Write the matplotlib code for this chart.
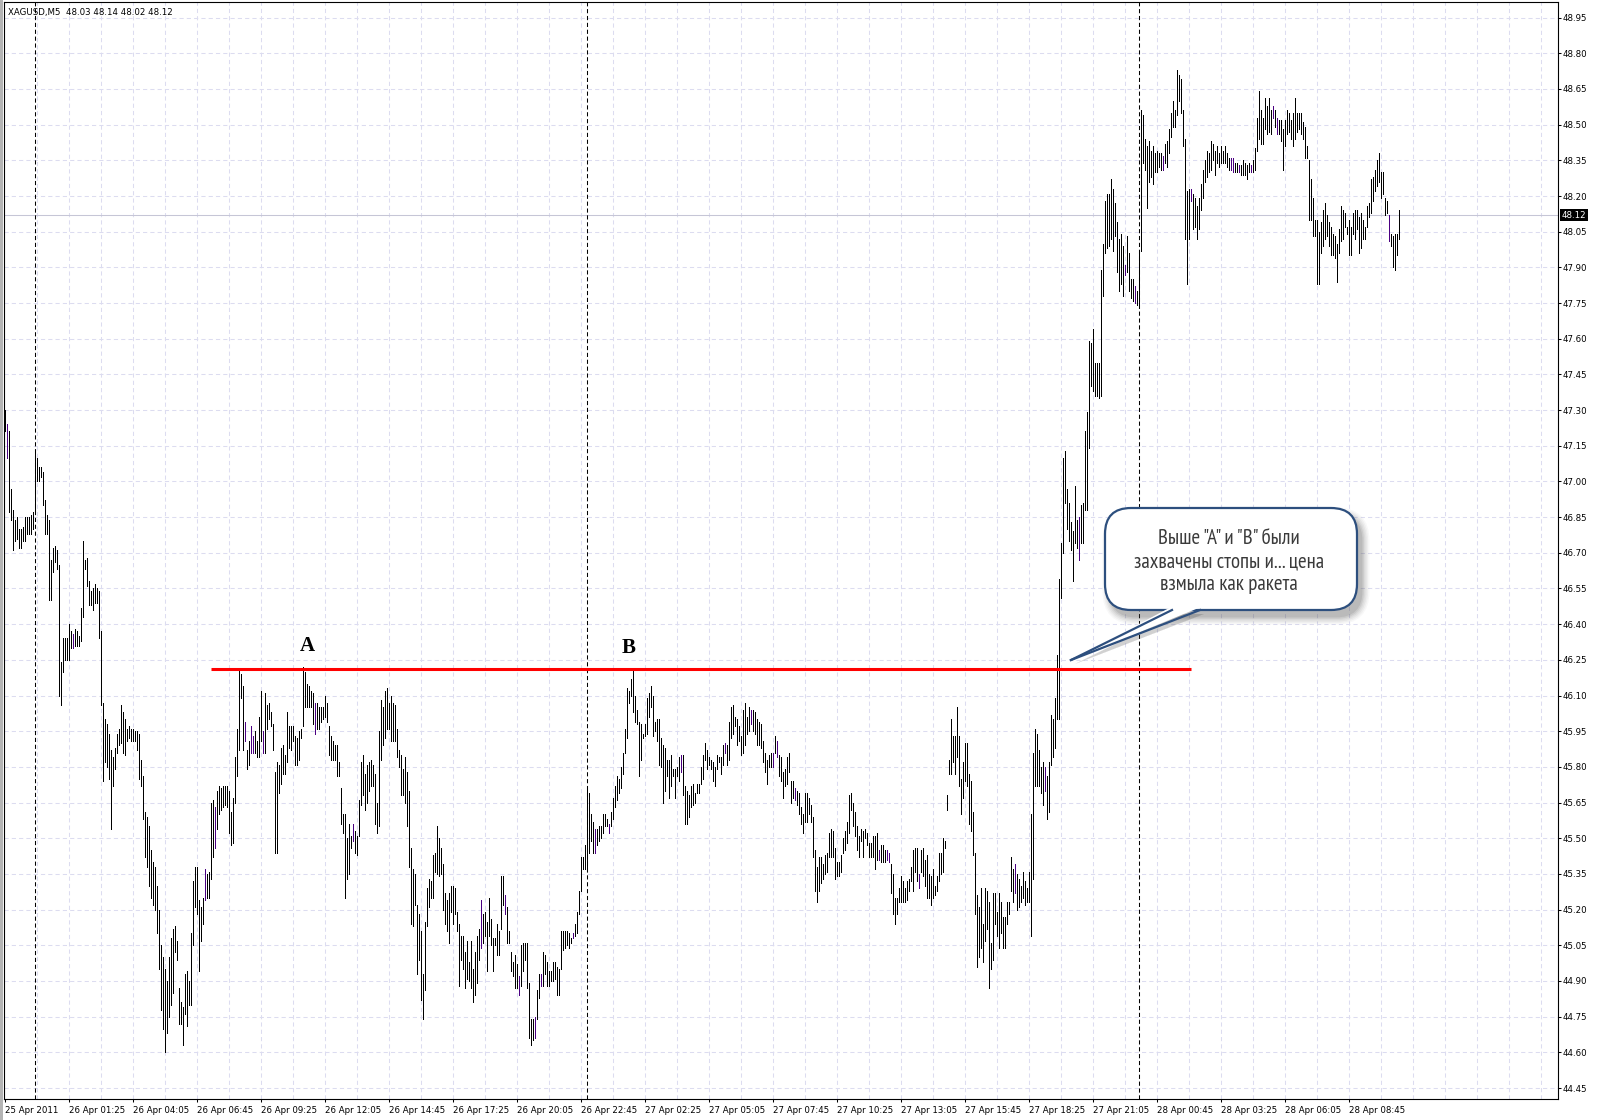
import numpy as np
import matplotlib
matplotlib.use("Agg")
import matplotlib.pyplot as plt
import matplotlib.transforms as mtransforms
from matplotlib.patches import FancyBboxPatch, Polygon, Rectangle
from matplotlib.lines import Line2D
from matplotlib import font_manager

# ---------------------------------------------------------------- data
symbol_caption = "XAGUSD,M5  48.03 48.14 48.02 48.12"
last_price = 48.12
level_price = 46.21          # resistance line through peaks A and B
level_span = (103, 593)      # bar range covered by the line
point_marks = [("A", 151, 46.31), ("B", 312, 46.30)]
day_breaks = [15, 291, 567]  # first bar of each new trading day
time_label_step = 32
time_labels = ["25 Apr 2011", "26 Apr 01:25", "26 Apr 04:05", "26 Apr 06:45",
               "26 Apr 09:25", "26 Apr 12:05", "26 Apr 14:45", "26 Apr 17:25",
               "26 Apr 20:05", "26 Apr 22:45", "27 Apr 02:25", "27 Apr 05:05",
               "27 Apr 07:45", "27 Apr 10:25", "27 Apr 13:05", "27 Apr 15:45",
               "27 Apr 18:25", "27 Apr 21:05", "28 Apr 00:45", "28 Apr 03:25",
               "28 Apr 06:05", "28 Apr 08:45"]
price_ticks = [44.45, 44.60, 44.75, 44.90, 45.05, 45.20, 45.35, 45.50, 45.65,
               45.80, 45.95, 46.10, 46.25, 46.40, 46.55, 46.70, 46.85, 47.00,
               47.15, 47.30, 47.45, 47.60, 47.75, 47.90, 48.05, 48.20, 48.35,
               48.50, 48.65, 48.80, 48.95]
callout_lines = ["Выше \"A\" и \"B\" были", "захвачены стопы и... цена", "взмыла как ракета"]

# M5 bars: high / low of every bar
bar_high = [
    47.30, 47.24, 47.21, 46.97, 46.88, 46.84, 46.85, 46.80, 46.80, 46.81,
    46.85, 46.85, 46.85, 46.86, 46.87, 47.12, 47.10, 47.06, 47.06, 47.04,
    46.92, 46.86, 46.84, 46.67, 46.72, 46.73, 46.71, 46.65, 46.24, 46.34,
    46.34, 46.34, 46.40, 46.37, 46.36, 46.38, 46.37, 46.35, 46.47, 46.75,
    46.67, 46.68, 46.58, 46.54, 46.55, 46.57, 46.55, 46.54, 46.37, 46.07,
    46.00, 45.98, 45.94, 45.87, 45.84, 45.88, 45.94, 45.96, 46.06, 46.03,
    46.00, 45.96, 45.97, 45.96, 45.96, 45.95, 45.95, 45.94, 45.83, 45.76,
    45.61, 45.59,
    45.55, 45.45, 45.40, 45.38, 45.30, 45.20, 45.05, 45.00, 44.95, 44.90,
    45.00, 45.08, 45.12,
    45.13, 45.07, 44.87, 44.81, 44.79, 44.93, 44.94, 44.90, 45.10, 45.32,
    45.38, 45.38, 45.24, 45.21, 45.25, 45.37, 45.35, 45.36, 45.65, 45.66,
    45.63, 45.70, 45.72, 45.71, 45.72, 45.72, 45.72, 45.70, 45.61, 45.67,
    45.84, 45.96, 46.21, 46.19, 46.14, 45.99, 45.87, 45.91, 45.97, 45.93,
    45.95, 45.91, 46.01, 46.12, 45.95, 46.11, 46.06, 46.07, 46.03, 45.98,
    45.78, 45.82, 45.81, 45.88, 45.89, 45.85, 46.03, 45.97, 45.97, 45.97,
    45.93, 45.92, 45.95, 45.96, 46.22, 46.20, 46.15, 46.14, 46.12, 46.11,
    46.07, 46.07, 46.05, 46.05, 46.05, 46.10, 46.07, 45.97, 45.93, 45.91,
    45.89, 45.89, 45.82, 45.71, 45.60, 45.60, 45.50, 45.56, 45.51, 45.56,
    45.53, 45.51, 45.66, 45.82, 45.85, 45.77, 45.81, 45.82, 45.83, 45.81,
    45.77, 45.65, 45.95, 46.08, 46.05, 46.12, 46.13, 46.07, 46.10, 46.07,
    46.06, 45.96, 45.87, 45.85, 45.79, 45.84, 45.78, 45.70, 45.46, 45.37,
    45.35, 45.22, 45.18, 45.11, 44.93, 45.15, 45.29, 45.33, 45.32, 45.43,
    45.44, 45.55, 45.50, 45.46, 45.39, 45.27, 45.24, 45.27, 45.30, 45.30,
    45.29, 45.19, 45.14, 45.09, 45.09, 45.02, 45.07, 44.98, 45.07, 44.95,
    45.02, 45.09, 45.12, 45.24, 45.18, 45.19, 45.15, 45.25, 45.16, 45.08,
    45.08, 45.14, 45.11, 45.34, 45.34, 45.26, 45.21, 45.11, 45.02, 44.98,
    45.01, 44.97, 44.92, 45.05, 45.06, 45.06, 45.06,
    44.89, 44.74, 44.74, 44.75, 44.86, 44.93, 44.93, 45.02, 45.01, 44.98,
    44.94, 44.94, 44.98, 44.98, 44.96, 44.95, 45.11, 45.11, 45.11, 45.11,
    45.10, 45.08, 45.10, 45.14, 45.19, 45.28, 45.42, 45.42, 45.47, 45.72,
    45.69, 45.60, 45.57, 45.54, 45.54, 45.55, 45.55, 45.60, 45.60, 45.58,
    45.56, 45.61, 45.67, 45.72, 45.76, 45.75, 45.80, 45.86, 45.96, 46.13,
    46.12, 46.17, 46.21, 46.10, 46.04, 45.99, 45.98, 45.94, 45.98, 46.09,
    46.11, 46.14, 46.10, 45.99, 46.00, 46.00, 45.92, 45.89, 45.88, 45.83,
    45.83, 45.85, 45.79, 45.79, 45.80, 45.84, 45.85, 45.85, 45.72, 45.70,
    45.68, 45.72, 45.73, 45.69, 45.73, 45.73, 45.80, 45.85,
    45.90, 45.87, 45.84, 45.83, 45.82, 45.80, 45.85, 45.84, 45.84, 45.89,
    45.90, 45.89, 45.99, 46.05, 46.06, 46.01, 46.00, 45.97, 45.93, 46.04,
    46.07, 46.01, 46.05, 46.04, 46.04, 46.03, 46.00, 45.99, 45.98, 45.91,
    45.86, 45.83, 45.85, 45.86, 45.86, 45.93, 45.91, 45.85, 45.84, 45.78,
    45.79, 45.84, 45.86, 45.74, 45.74, 45.71, 45.70, 45.69, 45.63, 45.60,
    45.69, 45.69, 45.67, 45.64, 45.59, 45.45, 45.38, 45.42, 45.42, 45.39,
    45.43, 45.44, 45.52, 45.54, 45.53, 45.46, 45.40, 45.40, 45.43, 45.50,
    45.53, 45.57, 45.68, 45.69, 45.65, 45.61, 45.55, 45.51, 45.54, 45.53,
    45.54, 45.52, 45.48, 45.48, 45.51, 45.51, 45.52, 45.45,
    45.47, 45.47, 45.45, 45.45, 45.44, 45.39, 45.35, 45.25, 45.25, 45.29,
    45.34, 45.32, 45.29, 45.32, 45.33, 45.38, 45.45, 45.46, 45.46, 45.35,
    45.45, 45.46, 45.41, 45.43, 45.35, 45.34, 45.37, 45.30, 45.34, 45.44,
    45.44, 45.50, 45.49, 45.68, 45.83, 46.00, 45.93, 45.93, 46.05, 45.93,
    45.75, 45.82, 45.90, 45.90, 45.77, 45.74, 45.61, 45.44, 45.26, 45.21,
    45.29, 45.14, 45.29, 45.28, 45.23, 45.06, 45.27, 45.27, 45.19, 45.27,
    45.23, 45.17, 45.17, 45.23, 45.23, 45.42, 45.37, 45.39, 45.35, 45.33,
    45.30, 45.36, 45.32, 45.29, 45.36, 45.60, 45.86, 45.96, 45.94, 45.87,
    45.80, 45.82, 45.80, 45.76, 45.82, 46.02, 46.00,
    46.09, 46.27, 46.59, 46.74, 47.10, 47.13, 46.97, 46.91, 46.83, 46.79,
    46.98, 46.84, 46.85, 46.90, 46.91, 47.21, 47.29, 47.59, 47.58, 47.64,
    47.50, 47.50, 47.50, 47.89, 48.00, 48.18, 48.21, 48.21, 48.27, 48.23,
    48.17, 48.09, 48.02, 48.04, 47.99, 47.91, 48.03, 47.96, 47.85, 47.85,
    47.82, 47.80, 47.97, 48.56, 48.54, 48.44, 48.41, 48.43, 48.39, 48.41,
    48.38, 48.39, 48.38, 48.38, 48.37, 48.42, 48.43, 48.48, 48.55, 48.60,
    48.56, 48.73, 48.71, 48.69, 48.56, 48.44, 48.22, 48.23, 48.23, 48.21,
    48.19, 48.16, 48.19, 48.25, 48.31, 48.35, 48.39, 48.38, 48.43, 48.42,
    48.39, 48.41, 48.38, 48.41, 48.39, 48.41, 48.38, 48.36,
    48.36, 48.36, 48.34, 48.34, 48.33, 48.33, 48.35, 48.34, 48.33, 48.34,
    48.33, 48.35, 48.40, 48.53, 48.64, 48.56, 48.53, 48.61, 48.58, 48.61,
    48.56, 48.58, 48.56, 48.53, 48.52, 48.52, 48.48, 48.52, 48.56, 48.55,
    48.52, 48.55, 48.61, 48.55, 48.55, 48.55, 48.51, 48.49, 48.41, 48.35,
    48.27, 48.19, 48.10, 48.10, 48.05, 48.09, 48.14, 48.17, 48.12, 48.09,
    48.07, 48.04, 48.03, 48.00, 48.06, 48.16, 48.14, 48.13, 48.07, 48.10,
    48.07, 48.13, 48.14, 48.14, 48.11, 48.13, 48.10, 48.07, 48.16, 48.17,
    48.27, 48.28, 48.31, 48.35, 48.38, 48.30, 48.30, 48.19, 48.18, 48.12,
    48.04, 48.03, 48.04, 48.04, 48.14,
]
bar_low = [
    47.21, 47.10, 46.87, 46.84, 46.71, 46.75, 46.76, 46.72, 46.72, 46.75,
    46.75, 46.78, 46.78, 46.78, 46.80, 46.88, 47.00, 47.00, 47.02, 46.90,
    46.78, 46.78, 46.50, 46.50, 46.62, 46.66, 46.63, 46.10, 46.06, 46.20,
    46.25, 46.25, 46.25, 46.30, 46.30, 46.31, 46.31, 46.31, 46.33, 46.43,
    46.63, 46.56, 46.48, 46.48, 46.46, 46.49, 46.49, 46.34, 46.06, 45.74,
    45.82, 45.80, 45.75, 45.54, 45.72, 45.79, 45.86, 45.89, 45.90, 45.86,
    45.85, 45.91, 45.92, 45.91, 45.91, 45.91, 45.87, 45.75, 45.72, 45.58,
    45.42, 45.38,
    45.30, 45.25, 45.22, 45.20, 45.10, 44.95, 44.78, 44.70, 44.60, 44.68,
    44.75, 44.80, 44.85,
    45.02, 44.99, 44.72, 44.72, 44.63, 44.76, 44.71, 44.80, 44.80, 45.05,
    45.21, 45.18, 44.94, 45.07, 45.14, 45.24, 45.25, 45.25, 45.33, 45.42,
    45.46, 45.54, 45.60, 45.62, 45.63, 45.64, 45.63, 45.52, 45.47, 45.48,
    45.65, 45.76, 45.87, 46.09, 45.87, 45.91, 45.79, 45.81, 45.86, 45.86,
    45.86, 45.84, 45.84, 45.91, 45.86, 45.86, 45.96, 46.00, 45.97, 45.87,
    45.44, 45.44, 45.69, 45.73, 45.77, 45.77, 45.82, 45.88, 45.87, 45.91,
    45.81, 45.81, 45.83, 45.92, 45.97, 46.05, 46.05, 46.05, 46.05, 45.98,
    45.94, 45.96, 45.96, 45.99, 46.00, 46.01, 45.99, 45.85, 45.83, 45.83,
    45.83, 45.76, 45.76, 45.56, 45.52, 45.25, 45.33, 45.35, 45.46, 45.49,
    45.44, 45.43, 45.51, 45.64, 45.68, 45.62, 45.65, 45.70, 45.72, 45.72,
    45.56, 45.52, 45.55, 45.83, 45.89, 45.92, 45.96, 45.96, 45.91, 45.91,
    45.91, 45.84, 45.80, 45.68, 45.68, 45.65, 45.55, 45.38, 45.14, 45.13,
    45.22, 44.93, 44.99, 44.82, 44.74, 44.86, 45.13, 45.21, 45.25, 45.25,
    45.36, 45.35, 45.34, 45.35, 45.20, 45.14, 45.11, 45.06, 45.19, 45.14,
    45.18, 45.11, 44.88, 44.99, 44.95, 44.87, 44.91, 44.90, 44.87, 44.81,
    44.84, 44.89, 44.99, 45.04, 45.06, 45.09, 44.94, 45.09, 45.05, 44.94,
    45.05, 45.01, 45.01, 45.12, 45.22, 45.18, 45.06, 45.06, 44.94, 44.92,
    44.87, 44.87, 44.84, 44.88, 44.94, 44.99, 44.87,
    44.66, 44.63, 44.65, 44.66, 44.74, 44.83, 44.88, 44.88, 44.93, 44.88,
    44.88, 44.90, 44.90, 44.91, 44.84, 44.84, 44.95, 45.03, 45.04, 45.05,
    45.04, 45.06, 45.08, 45.09, 45.10, 45.18, 45.28, 45.37, 45.37, 45.37,
    45.44, 45.49, 45.44, 45.44, 45.47, 45.49, 45.50, 45.52, 45.55, 45.55,
    45.52, 45.55, 45.58, 45.63, 45.66, 45.69, 45.71, 45.77, 45.86, 45.92,
    46.07, 46.10, 46.03, 45.99, 45.98, 45.76, 45.83, 45.92, 45.93, 45.94,
    46.01, 46.05, 45.93, 45.95, 45.91, 45.81, 45.80, 45.65, 45.70, 45.76,
    45.67, 45.72, 45.76, 45.67, 45.76, 45.74, 45.78, 45.68, 45.56, 45.56,
    45.59, 45.63, 45.64, 45.65, 45.69, 45.69, 45.73, 45.75,
    45.83, 45.79, 45.81, 45.79, 45.74, 45.72, 45.79, 45.82, 45.77, 45.81,
    45.86, 45.81, 45.83, 45.92, 45.94, 45.97, 45.89, 45.91, 45.85, 45.86,
    45.89, 45.94, 45.95, 45.98, 45.95, 45.94, 45.89, 45.89, 45.88, 45.82,
    45.78, 45.73, 45.80, 45.80, 45.80, 45.86, 45.84, 45.76, 45.74, 45.67,
    45.72, 45.73, 45.78, 45.65, 45.67, 45.66, 45.64, 45.60, 45.56, 45.52,
    45.57, 45.57, 45.60, 45.57, 45.42, 45.28, 45.23, 45.28, 45.31, 45.33,
    45.35, 45.36, 45.42, 45.42, 45.42, 45.33, 45.34, 45.34, 45.36, 45.44,
    45.45, 45.48, 45.52, 45.62, 45.55, 45.51, 45.45, 45.42, 45.49, 45.42,
    45.50, 45.47, 45.42, 45.42, 45.42, 45.37, 45.41, 45.41,
    45.40, 45.40, 45.40, 45.41, 45.40, 45.27, 45.18, 45.14, 45.18, 45.23,
    45.23, 45.23, 45.23, 45.24, 45.28, 45.32, 45.28, 45.36, 45.32, 45.29,
    45.36, 45.34, 45.30, 45.25, 45.25, 45.22, 45.25, 45.26, 45.28, 45.32,
    45.35, 45.36, 45.46, 45.62, 45.77, 45.77, 45.82, 45.77, 45.84, 45.72,
    45.60, 45.67, 45.74, 45.72, 45.56, 45.53, 45.43, 45.18, 44.96, 45.00,
    45.04, 44.98, 45.07, 45.12, 44.87, 44.95, 44.99, 45.14, 45.09, 45.04,
    45.10, 45.04, 45.04, 45.14, 45.18, 45.28, 45.23, 45.27, 45.20, 45.21,
    45.23, 45.25, 45.22, 45.23, 45.23, 45.09, 45.33, 45.72, 45.72, 45.72,
    45.69, 45.64, 45.70, 45.58, 45.61, 45.81, 45.84,
    45.88, 46.00, 46.00, 46.51, 46.70, 46.91, 46.80, 46.75, 46.71, 46.58,
    46.74, 46.72, 46.67, 46.74, 46.74, 46.88, 46.88, 47.14, 47.40, 47.38,
    47.36, 47.36, 47.35, 47.36, 47.78, 47.96, 47.98, 47.99, 48.02, 47.97,
    48.03, 47.88, 47.80, 47.83, 47.78, 47.87, 47.88, 47.80, 47.77, 47.76,
    47.75, 47.74, 47.73, 47.97, 48.34, 48.31, 48.15, 48.26, 48.28, 48.25,
    48.30, 48.30, 48.32, 48.31, 48.31, 48.34, 48.32, 48.38, 48.45, 48.49,
    48.49, 48.54, 48.60, 48.55, 48.41, 48.02, 47.83, 48.02, 48.18, 48.06,
    48.07, 48.02, 48.06, 48.14, 48.19, 48.26, 48.28, 48.30, 48.31, 48.35,
    48.29, 48.34, 48.32, 48.34, 48.34, 48.34, 48.32, 48.31,
    48.31, 48.30, 48.30, 48.30, 48.30, 48.29, 48.29, 48.29, 48.27, 48.30,
    48.30, 48.30, 48.31, 48.39, 48.44, 48.42, 48.42, 48.48, 48.46, 48.47,
    48.46, 48.53, 48.49, 48.46, 48.46, 48.43, 48.31, 48.41, 48.46, 48.47,
    48.44, 48.41, 48.44, 48.47, 48.48, 48.46, 48.44, 48.36, 48.36, 48.10,
    48.10, 48.03, 48.03, 47.83, 47.83, 47.96, 47.99, 48.02, 48.03, 47.99,
    47.95, 47.95, 47.94, 47.84, 47.96, 48.01, 48.02, 48.07, 48.04, 47.95,
    47.95, 48.04, 48.02, 48.06, 47.96, 47.98, 48.02, 48.02, 48.07, 48.11,
    48.13, 48.18, 48.22, 48.24, 48.26, 48.19, 48.21, 48.12, 48.13, 48.01,
    47.99, 47.90, 47.89, 47.95, 48.02,
]
purple_bars = [1, 34, 100, 105, 120, 123, 124, 129, 155, 174, 238, 250, 257,
               265, 268, 284, 295, 302, 338, 360, 373, 384, 386, 395, 437,
               441, 442, 457, 505, 520, 537, 560, 565, 579, 593, 613, 614,
               617, 623, 634, 636, 692]

# ---------------------------------------------------------------- layout
W, H = 1600, 1120
plt.rcParams["font.family"] = ["DejaVu Sans"]
fig = plt.figure(figsize=(W / 100, H / 100), dpi=100)
fig.patch.set_facecolor("white")

# chart window: frame from x=4..1558 px, y=2..1099 px
ax = fig.add_axes([4 / W, 1 - 1099 / H, 1554 / W, 1097 / H])
ax.set_facecolor("white")
ax.set_xlim(-0.5, 776.5)
ax.set_ylim(44.4038, 49.0156)

grid_color = "#dcdcf0"
for p in price_ticks:
    ax.axhline(p, color=grid_color, lw=0.75, ls=(0, (4, 3)), zorder=0)
for b in range(16, 777, 16):
    ax.axvline(b, color=grid_color, lw=0.75, ls=(0, (4, 3)), zorder=0)

# bid line
ax.axhline(last_price, color="#c6c6d6", lw=0.75, zorder=1)

# day separators
for b in day_breaks:
    ax.axvline(b, color="black", lw=0.75, ls=(0, (4, 2.6)), zorder=2)

# price bars, one pixel wide
n = min(len(bar_high), len(bar_low))
x = np.arange(n)
purple = set(purple_bars)
colors = ["#4b0082" if i in purple else "black" for i in range(n)]
ax.vlines(x, bar_low[:n], bar_high[:n], colors=colors, linewidth=0.55,
          antialiased=False, zorder=3)

# horizontal level through A and B
ax.hlines(level_price, level_span[0], level_span[1], color="#ff0000", lw=2.2, zorder=4)
for label, bx, py in point_marks:
    ax.text(bx, py, label, ha="center", va="center", fontsize=15,
            fontweight="bold", family=["Liberation Serif", "DejaVu Serif"],
            color="black", zorder=5)

for side in ("left", "right", "top", "bottom"):
    ax.spines[side].set_color("black")
    ax.spines[side].set_linewidth(0.8)

# price scale on the right
ax.yaxis.tick_right()
ax.set_yticks(price_ticks)
ax.set_yticklabels([f"{p:.2f}" for p in price_ticks])
ax.tick_params(axis="y", which="major", direction="out", length=2.3, width=0.75,
               pad=1.3, labelsize=6.2, colors="black", left=False, right=True)

# time scale
tick_bars = [i * time_label_step for i in range(len(time_labels))]
ax.set_xticks(tick_bars)
ax.set_xticklabels(time_labels)
for t in ax.get_xticklabels():
    t.set_horizontalalignment("left")
ax.tick_params(axis="x", which="major", direction="out", length=2.3, width=0.75,
               pad=2.5, labelsize=6.2, colors="black")

# current price tag
tag_tr = mtransforms.blended_transform_factory(ax.transAxes, ax.transData) + \
    mtransforms.ScaledTranslation(3.5 / 100, 0, fig.dpi_scale_trans)
ax.text(1.0, last_price, f"{last_price:.2f}", transform=tag_tr, ha="left",
        va="center", fontsize=6.2, color="white", clip_on=False, zorder=10,
        bbox=dict(boxstyle="square,pad=0.18", fc="black", ec="none"))

# ---------------------------------------------------------------- overlay (pixel space)
ov = fig.add_axes([0, 0, 1, 1], zorder=20)
ov.set_xlim(0, W)
ov.set_ylim(H, 0)
ov.axis("off")
ov.patch.set_alpha(0)

ov.add_patch(Rectangle((0, 0), 3, H, color="#b4b4b4", lw=0))
ov.text(7.5, 12.5, symbol_caption, fontsize=6.2, ha="left", va="center", color="black")

# callout balloon
bx0, by0, bx1, by1 = 1105, 508, 1357, 610
tail_tip = (1071, 660)
tail_base = (1172, 1200)
edge = "#2d4f7e"

for k, a in enumerate([0.12, 0.10, 0.08, 0.06, 0.05, 0.04]):
    g = 0.5 + k * 1.4
    ov.add_patch(FancyBboxPatch((bx0 + 5 - g, by0 + 7 - g), bx1 - bx0 + 2 * g,
                                by1 - by0 + 2 * g,
                                boxstyle=f"round,pad=0,rounding_size={26 + g}",
                                fc="#505050", ec="none", alpha=a))
    ov.add_patch(Polygon([(tail_base[0] + 4, by1 + 4), (tail_tip[0] + 4, tail_tip[1] + 4),
                          (tail_base[1] + 4, by1 + 4)], closed=True,
                         fc="#505050", ec="none", alpha=a * 0.6))

ov.add_patch(FancyBboxPatch((bx0, by0), bx1 - bx0, by1 - by0,
                            boxstyle="round,pad=0,rounding_size=26",
                            fc="white", ec=edge, lw=1.6))
ov.add_patch(Polygon([(tail_base[0] - 1, by1 - 3), tail_tip, (tail_base[1] + 1, by1 - 3)],
                     closed=True, fc="white", ec="none"))
ov.add_line(Line2D([tail_base[0], tail_tip[0]], [by1, tail_tip[1]], color=edge, lw=1.6))
ov.add_line(Line2D([tail_base[1], tail_tip[0]], [by1, tail_tip[1]], color=edge, lw=1.6))

# narrow sans face for the balloon text, if the system has one
narrow_path = None
for f in font_manager.fontManager.ttflist:
    fn = f.fname.lower()
    if "sans" in fn and ("narrow" in fn or "condensed" in fn) and "bold" not in fn \
            and "italic" not in fn and "oblique" not in fn:
        narrow_path = f.fname
        if "narrow" in fn:
            break
if narrow_path:
    callout_props = font_manager.FontProperties(fname=narrow_path, size=15.0)
else:
    callout_props = font_manager.FontProperties(family=["Liberation Sans", "DejaVu Sans"],
                                                size=11.0)
for i, line in enumerate(callout_lines):
    ov.text((bx0 + bx1) / 2 - 2, 538 + i * 23.5, line, ha="center", va="center",
            fontproperties=callout_props, color="#3a3a3a")

fig.savefig("out.png", dpi=100, facecolor="white")
